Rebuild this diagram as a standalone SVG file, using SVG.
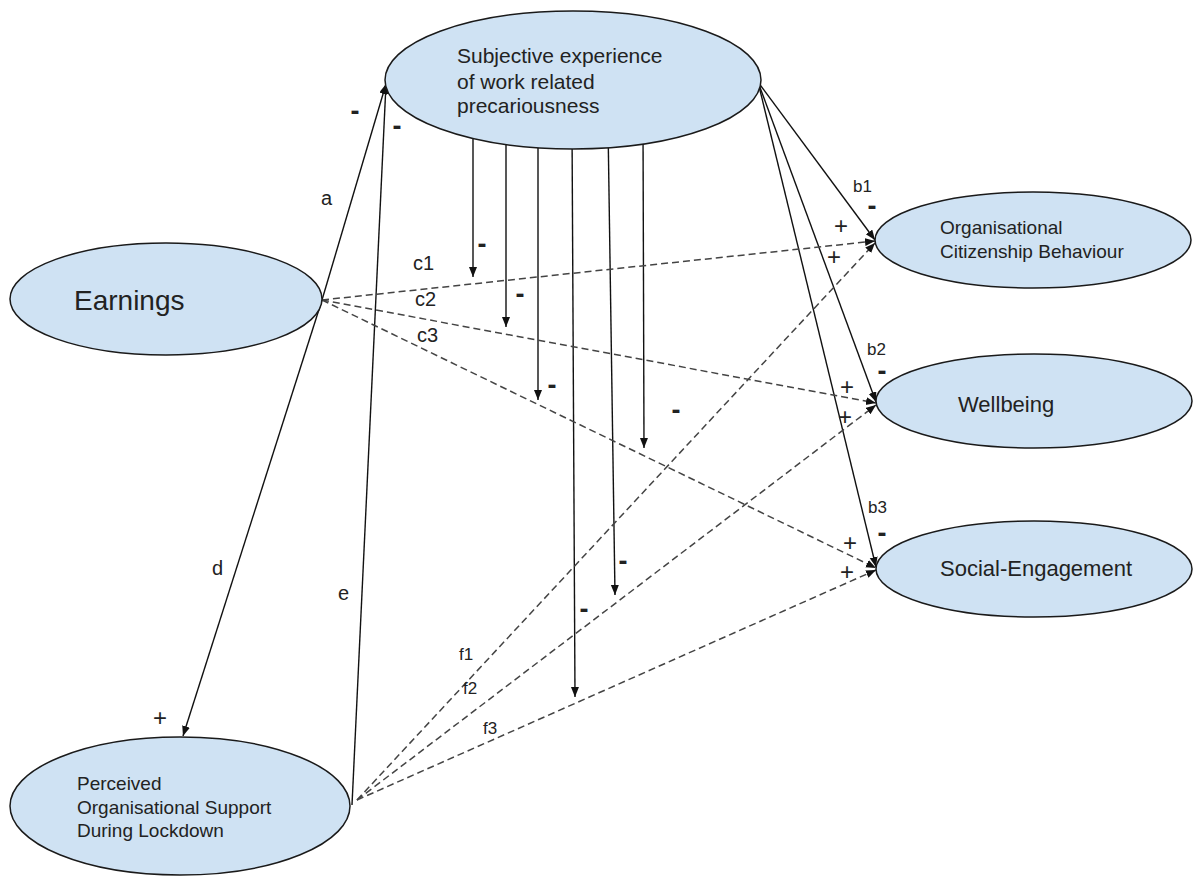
<svg xmlns="http://www.w3.org/2000/svg" width="1195" height="877" viewBox="0 0 1195 877">
<defs>
<style>
.node{fill:#cfe2f3;stroke:#1a1a1a;stroke-width:1.5}
.t{font-family:"Liberation Sans",Arial,sans-serif;fill:#222}
.solid{stroke:#111;stroke-width:1.4;fill:none}
.dash{stroke:#444;stroke-width:1.5;fill:none;stroke-dasharray:7 4}
.lbl{font-family:"Liberation Sans",Arial,sans-serif;fill:#222}
.minus{font-family:"Liberation Sans",Arial,sans-serif;font-weight:bold;font-size:27px;fill:#222;text-anchor:middle}
.plus{font-family:"Liberation Sans",Arial,sans-serif;font-size:24px;fill:#222;text-anchor:middle}
</style>
<marker id="ah" markerUnits="userSpaceOnUse" markerWidth="12" markerHeight="10" refX="10" refY="4" orient="auto">
<path d="M0,0 L10,4 L0,8 z" fill="#111"/>
</marker>
</defs>
<rect width="1195" height="877" fill="#fff"/>
<g id="connectors">
<line class="solid" x1="322" y1="300" x2="386" y2="84" marker-end="url(#ah)"/>
<line class="solid" x1="322" y1="300" x2="183" y2="736" marker-end="url(#ah)"/>
<line class="solid" x1="352" y1="805" x2="386" y2="84" marker-end="url(#ah)"/>
<line class="solid" x1="758" y1="82" x2="875" y2="240" marker-end="url(#ah)"/>
<line class="solid" x1="758" y1="82" x2="876" y2="402" marker-end="url(#ah)"/>
<line class="solid" x1="758" y1="82" x2="876" y2="567" marker-end="url(#ah)"/>
<line class="solid" x1="473" y1="125" x2="473" y2="277" marker-end="url(#ah)"/>
<line class="solid" x1="506" y1="125" x2="506" y2="327" marker-end="url(#ah)"/>
<line class="solid" x1="538" y1="125" x2="538" y2="400" marker-end="url(#ah)"/>
<line class="solid" x1="572" y1="125" x2="575" y2="697" marker-end="url(#ah)"/>
<line class="solid" x1="608" y1="125" x2="615" y2="595" marker-end="url(#ah)"/>
<line class="solid" x1="643" y1="125" x2="644" y2="448" marker-end="url(#ah)"/>
<line class="dash" x1="322" y1="300" x2="875" y2="241" marker-end="url(#ah)"/>
<line class="dash" x1="322" y1="300" x2="876" y2="403" marker-end="url(#ah)"/>
<line class="dash" x1="322" y1="300" x2="876" y2="568" marker-end="url(#ah)"/>
<line class="dash" x1="357" y1="800" x2="875" y2="243" marker-end="url(#ah)"/>
<line class="dash" x1="357" y1="800" x2="876" y2="405" marker-end="url(#ah)"/>
<line class="dash" x1="357" y1="800" x2="876" y2="570" marker-end="url(#ah)"/>
</g>
<g id="node-precariousness">
<ellipse class="node" cx="573" cy="80" rx="188" ry="69"/>
<text class="t" font-size="21" x="457" y="63">Subjective experience</text>
<text class="t" font-size="21" x="457" y="89">of work related</text>
<text class="t" font-size="21" x="457" y="113">precariousness</text>
</g>
<g id="node-earnings">
<ellipse class="node" cx="166" cy="299" rx="156" ry="56"/>
<text class="t" font-size="28" x="74" y="310">Earnings</text>
</g>
<g id="node-pos">
<ellipse class="node" cx="180" cy="806" rx="170" ry="69"/>
<text class="t" font-size="19" x="77" y="790">Perceived</text>
<text class="t" font-size="19" x="77" y="814">Organisational Support</text>
<text class="t" font-size="19" x="77" y="837">During Lockdown</text>
</g>
<g id="node-ocb">
<ellipse class="node" cx="1033" cy="240" rx="158" ry="48"/>
<text class="t" font-size="19" x="940" y="234">Organisational</text>
<text class="t" font-size="19" x="940" y="258">Citizenship Behaviour</text>
</g>
<g id="node-wellbeing">
<ellipse class="node" cx="1034" cy="401" rx="158" ry="47"/>
<text class="t" font-size="22" x="958" y="412">Wellbeing</text>
</g>
<g id="node-social">
<ellipse class="node" cx="1034" cy="569" rx="158" ry="48"/>
<text class="t" font-size="22" x="940" y="576">Social-Engagement</text>
</g>
<g id="labels">
<text class="lbl" font-size="20" x="321" y="205">a</text>
<text class="lbl" font-size="20" x="212" y="575">d</text>
<text class="lbl" font-size="20" x="338" y="600">e</text>
<text class="lbl" font-size="20" x="413" y="270">c1</text>
<text class="lbl" font-size="20" x="415" y="306">c2</text>
<text class="lbl" font-size="20" x="417" y="342">c3</text>
<text class="lbl" font-size="17" x="853" y="192">b1</text>
<text class="lbl" font-size="17" x="867" y="355">b2</text>
<text class="lbl" font-size="17" x="868" y="513">b3</text>
<text class="lbl" font-size="17" x="459" y="660">f1</text>
<text class="lbl" font-size="17" x="463" y="694">f2</text>
<text class="lbl" font-size="17" x="483" y="734">f3</text>
<text class="minus" x="355" y="120">-</text>
<text class="minus" x="397" y="135">-</text>
<text class="minus" x="482" y="253">-</text>
<text class="minus" x="520" y="303">-</text>
<text class="minus" x="552" y="394">-</text>
<text class="minus" x="676" y="419">-</text>
<text class="minus" x="623" y="570">-</text>
<text class="minus" x="584" y="618">-</text>
<text class="minus" x="872" y="215">-</text>
<text class="minus" x="882" y="380">-</text>
<text class="minus" x="882" y="542">-</text>
<text class="plus" x="841" y="234">+</text>
<text class="plus" x="834" y="265">+</text>
<text class="plus" x="847" y="395">+</text>
<text class="plus" x="845" y="425">+</text>
<text class="plus" x="850" y="551">+</text>
<text class="plus" x="847" y="580">+</text>
<text class="plus" x="160" y="726">+</text>
</g>
</svg>
